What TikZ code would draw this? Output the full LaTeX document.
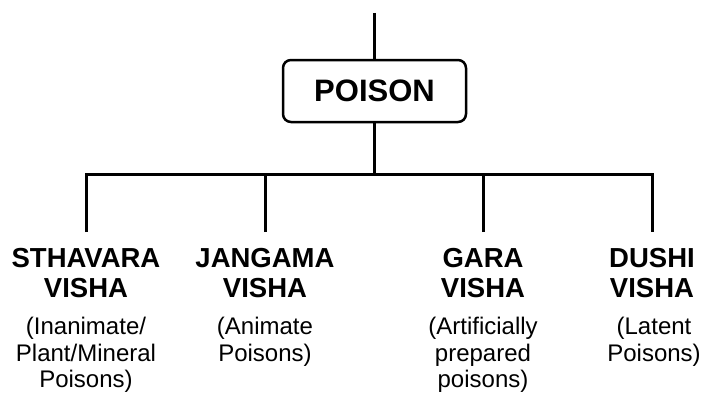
\documentclass[tikz,border=0pt]{standalone}
\usepackage{fontspec}
\setmainfont{Liberation Sans}

\begin{document}
\begin{tikzpicture}[x=1pt, y=1pt, line width=3pt,
  root/.style={rectangle, draw, rounded corners=8pt, line width=2.5pt,
    minimum width=183pt, minimum height=62pt,
    font=\fontsize{31}{36}\selectfont\bfseries},
  head/.style={anchor=north, align=center, inner sep=0pt, outer ysep=16pt,
    font=\fontsize{27.5}{30}\selectfont\bfseries},
  desc/.style={anchor=north, align=center, inner sep=0pt,
    font=\fontsize{24}{26.5}\selectfont}]

  \useasboundingbox (0,0) rectangle (703,392);

  \coordinate (top) at (374.5,379);
  \node[root] (poison) at (374.5,301) {POISON};
  \coordinate (bar) at (374.5,218);

  \node[head] (sthavara) at (86,160) {STHAVARA\\VISHA};
  \node[desc] (sthavaraD) at (86,76) {(Inanimate/\\Plant/Mineral\\Poisons)};

  \node[head] (jangama) at (265,160) {JANGAMA\\VISHA};
  \node[desc] (jangamaD) at (265,76) {(Animate\\Poisons)};

  \node[head] (gara) at (483,160) {GARA\\VISHA};
  \node[desc] (garaD) at (483,76) {(Artificially\\prepared\\poisons)};

  \node[head] (dushi) at (652,160) {DUSHI\\VISHA};
  \node[desc] (dushiD) at (654,76) {(Latent\\Poisons)};

  \draw[-] (top) -- (poison.north);
  \draw[-] (poison.south) -- (bar);
  \draw[-] (sthavara.north) |- (bar) -| (dushi.north);
  \draw[-] (jangama.north) -- (jangama.north |- bar);
  \draw[-] (gara.north) -- (gara.north |- bar);

\end{tikzpicture}
\end{document}
